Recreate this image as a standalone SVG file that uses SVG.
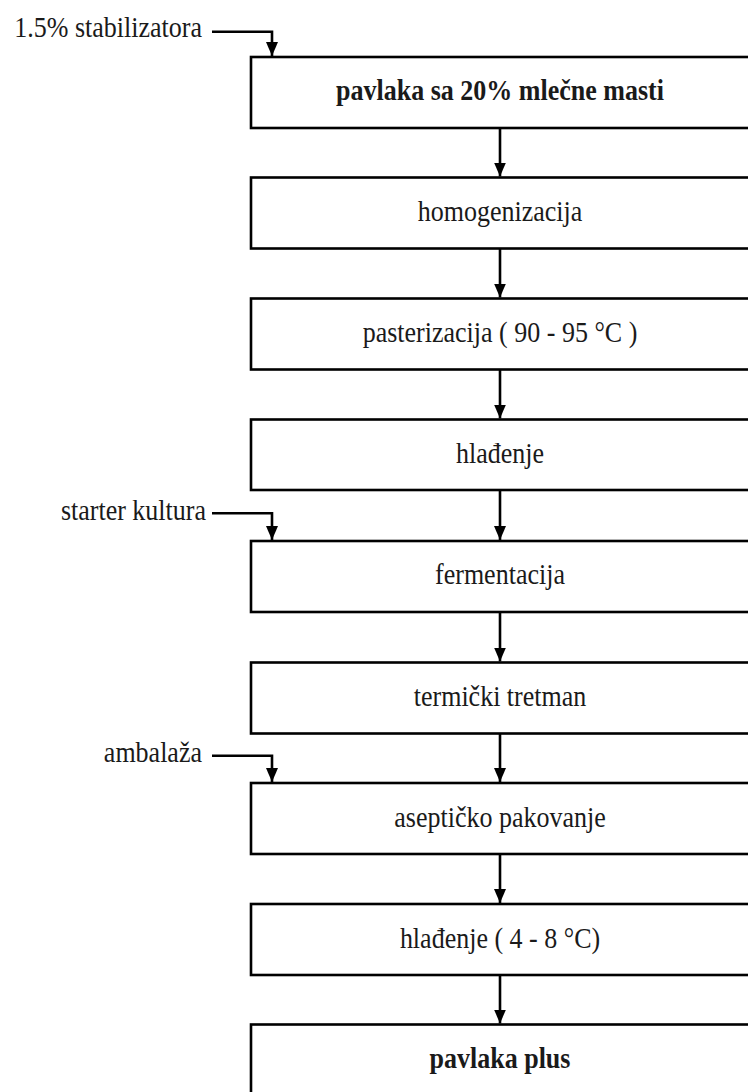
<svg xmlns="http://www.w3.org/2000/svg" width="748" height="1092" viewBox="0 0 748 1092">
<style>
.box{fill:#fff;stroke:#000;stroke-width:2.6}
.t{font-family:"Liberation Serif","DejaVu Serif",serif;font-size:26px;fill:#1a1a1a;text-anchor:middle}
.b{font-weight:bold}
.l{font-family:"Liberation Serif","DejaVu Serif",serif;font-size:26px;fill:#1a1a1a;text-anchor:end}
.c{fill:none;stroke:#000;stroke-width:2.6}
</style>
<defs>
<marker id="ah" viewBox="0 0 14 12" refX="14" refY="6" markerWidth="14" markerHeight="12" markerUnits="userSpaceOnUse" orient="auto">
<path d="M0,0 L14,6 L0,12 Z" fill="#000"/>
</marker>
</defs>
<rect width="748" height="1092" fill="#fff"/>
<g id="connectors">
<path class="c" d="M212,31.7 H272 V56" marker-end="url(#ah)"/>
<path class="c" d="M212,513.3 H272 V540" marker-end="url(#ah)"/>
<path class="c" d="M212,755.7 H272 V782" marker-end="url(#ah)"/>
<line class="c" x1="500" y1="128" x2="500" y2="176.5" marker-end="url(#ah)"/>
<line class="c" x1="500" y1="248.5" x2="500" y2="297.5" marker-end="url(#ah)"/>
<line class="c" x1="500" y1="369.5" x2="500" y2="418.5" marker-end="url(#ah)"/>
<line class="c" x1="500" y1="490" x2="500" y2="540" marker-end="url(#ah)"/>
<line class="c" x1="500" y1="612" x2="500" y2="661.5" marker-end="url(#ah)"/>
<line class="c" x1="500" y1="733.5" x2="500" y2="782" marker-end="url(#ah)"/>
<line class="c" x1="500" y1="854" x2="500" y2="903" marker-end="url(#ah)"/>
<line class="c" x1="500" y1="975" x2="500" y2="1023.5" marker-end="url(#ah)"/>
</g>
<g id="label-stabilizatora"><text class="l" transform="translate(202,37) scale(1,1.1)">1.5% stabilizatora</text></g>
<g id="label-starter"><text class="l" transform="translate(206,520) scale(1,1.1)">starter kultura</text></g>
<g id="label-ambalaza"><text class="l" transform="translate(202,762) scale(1,1.1)">ambalaža</text></g>
<g id="n1"><rect class="box" x="251" y="57" width="510" height="71"/><text class="t b" transform="translate(500,100) scale(1,1.1)">pavlaka sa 20% mlečne masti</text></g>
<g id="n2"><rect class="box" x="251" y="177.5" width="510" height="71"/><text class="t" transform="translate(500,221) scale(1,1.1)">homogenizacija</text></g>
<g id="n3"><rect class="box" x="251" y="298.5" width="510" height="71"/><text class="t" transform="translate(500,342) scale(1,1.1)">pasterizacija ( 90 - 95 °C )</text></g>
<g id="n4"><rect class="box" x="251" y="419.5" width="510" height="70.5"/><text class="t" transform="translate(500,463) scale(1,1.1)">hlađenje</text></g>
<g id="n5"><rect class="box" x="251" y="541" width="510" height="71"/><text class="t" transform="translate(500,584) scale(1,1.1)">fermentacija</text></g>
<g id="n6"><rect class="box" x="251" y="662.5" width="510" height="71"/><text class="t" transform="translate(500,706) scale(1,1.1)">termički tretman</text></g>
<g id="n7"><rect class="box" x="251" y="783" width="510" height="71"/><text class="t" transform="translate(500,827) scale(1,1.1)">aseptičko pakovanje</text></g>
<g id="n8"><rect class="box" x="251" y="904" width="510" height="71"/><text class="t" transform="translate(500,948) scale(1,1.1)">hlađenje ( 4 - 8 °C)</text></g>
<g id="n9"><rect class="box" x="251" y="1024.5" width="510" height="80"/><text class="t b" transform="translate(500,1068) scale(1,1.1)">pavlaka plus</text></g>
</svg>
